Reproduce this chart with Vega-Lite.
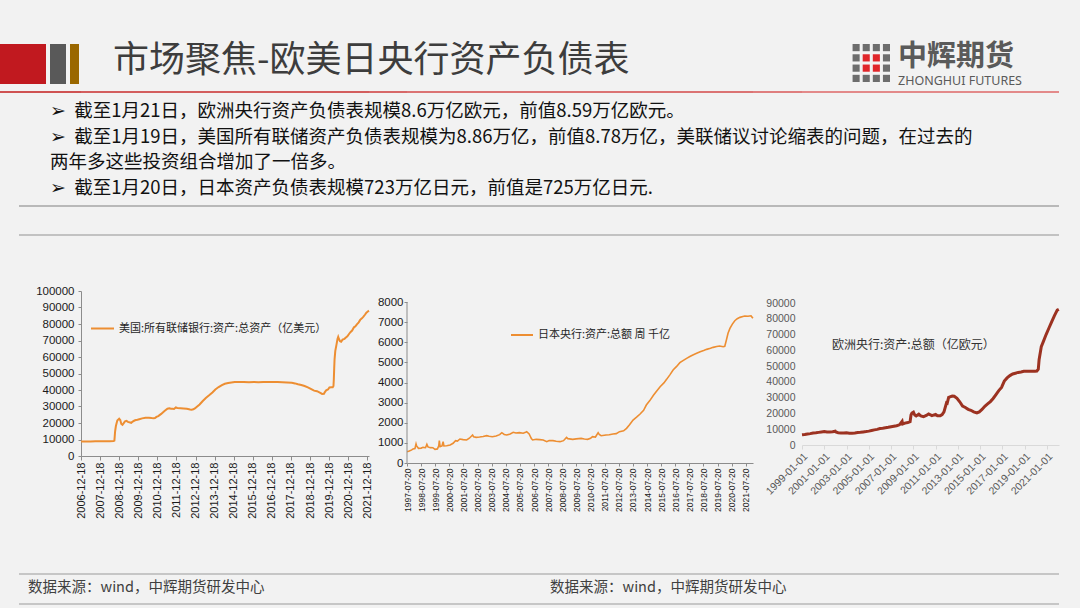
{
"$schema":"https://vega.github.io/schema/vega-lite/v6.json",
"background":"#f2f2f2",
"padding":0,
"data":{"values":[]},
"columns":13,
"align":"each",
"bounds":"flush",
"spacing":0,
"resolve":{"scale":{"x":"independent","y":"independent","color":"independent"},"legend":{"color":"independent"}},
"config":{"view":{"stroke":null},"concat":{"spacing":0},"font":"Noto Sans CJK SC","axis":{"labelOverlap":false,"labelFlush":false,"labelBound":false}},
"concat":[
{"width":19,"height":44,"mark":"point"},{"width":27,"height":44,"mark":"point"},{"width":4,"height":44,"mark":"point"},{"width":16,"height":44,"mark":"point"},{"width":4,"height":44,"mark":"point"},{"width":9,"height":44,"mark":"point"},{"width":2,"height":44,"mark":"point"},{"width":288,"height":44,"mark":"point"},{"width":38,"height":44,"mark":"point"},{"width":346,"height":44,"mark":"point"},{"width":49,"height":44,"mark":"point"},{"width":257,"height":44,"mark":"point"},{"width":21,"height":44,"mark":"point"},

{"width":19,"height":40,"view":{"fill":"#c1191f"},"mark":"point"},
{"width":27,"height":40,"view":{"fill":"#c1191f"},"mark":"point"},
{"width":1,"height":1,"mark":"point"},
{"width":16,"height":40,"view":{"fill":"#595959"},"mark":"point"},
{"width":1,"height":1,"mark":"point"},
{"width":9,"height":40,"view":{"fill":"#9a6700"},"mark":"point"},
{"width":1,"height":1,"mark":"point"},{"width":1,"height":1,"mark":"point"},{"width":1,"height":1,"mark":"point"},{"width":1,"height":1,"mark":"point"},{"width":1,"height":1,"mark":"point"},
{"width":88,"height":38,
 "data":{"values":[
  {"c":1,"r":1,"k":"g"},{"c":2,"r":1,"k":"g"},{"c":3,"r":1,"k":"g"},{"c":4,"r":1,"k":"g"},
  {"c":1,"r":2,"k":"g"},{"c":2,"r":2,"k":"r"},{"c":3,"r":2,"k":"r"},{"c":4,"r":2,"k":"g"},
  {"c":1,"r":3,"k":"g"},{"c":2,"r":3,"k":"r"},{"c":3,"r":3,"k":"r"},{"c":4,"r":3,"k":"g"},
  {"c":1,"r":4,"k":"g"},{"c":2,"r":4,"k":"g"},{"c":3,"r":4,"k":"g"},{"c":4,"r":4,"k":"g"}]},
 "mark":{"type":"rect"},
 "encoding":{
  "x":{"field":"c","type":"ordinal","axis":null,"scale":{"domain":[-4,-3,-2,-1,0,1,2,3,4],"paddingInner":0.3,"paddingOuter":0}},
  "y":{"field":"r","type":"ordinal","axis":null,"scale":{"paddingInner":0.3,"paddingOuter":0}},
  "color":{"field":"k","type":"nominal","legend":null,"scale":{"domain":["g","r"],"range":["#6d6d6d","#e0262a"]}}}},
{"width":1,"height":47,"mark":"point"},

{"width":19,"height":2,"view":{"fill":"#cf5252"},"mark":"point",
 "title":{"text":"市场聚焦-欧美日央行资产负债表","anchor":"start","frame":"group","orient":"top","offset":11,"dx":113,"font":"Noto Sans CJK SC","fontSize":36,"fontWeight":"normal","color":"#3d3d3d"}},
{"width":27,"height":2,"view":{"fill":"#cf5252"},"mark":"point"},
{"width":4,"height":2,"view":{"fill":"#cf5252"},"mark":"point"},
{"width":16,"height":2,"view":{"fill":"#cf5252"},"mark":"point"},
{"width":4,"height":2,"view":{"fill":"#cf5252"},"mark":"point"},
{"width":9,"height":2,"view":{"fill":"#cf5252"},"mark":"point"},
{"width":2,"height":2,"view":{"fill":"#cf5252"},"mark":"point"},
{"width":288,"height":2,"view":{"fill":"#d35e5e"},"mark":"point"},
{"width":38,"height":2,"view":{"fill":"#d76868"},"mark":"point"},
{"width":346,"height":2,"view":{"fill":"#db7373"},"mark":"point"},
{"width":49,"height":2,"view":{"fill":"#df7e7e"},"mark":"point"},
{"width":257,"height":2,"view":{"fill":"#e38a8a"},"mark":"point",
 "title":{"text":"中辉期货","subtitle":"ZHONGHUI FUTURES","anchor":"start","frame":"group","orient":"top","offset":4,"dx":96,"font":"Noto Sans CJK SC","fontSize":29,"fontWeight":"bold","color":"#5a5a5a","subtitleFont":"Noto Sans","subtitleFontSize":12.5,"subtitleColor":"#5a5a5a","subtitlePadding":3}},
{"width":1,"height":114,"mark":"point"},

{"width":1,"height":29,"mark":"point"},
{"width":27,"height":2,"view":{"fill":"#b9b9b9"},"mark":"point",
 "title":{"text":["➢\u00a0\u00a0截至1月21日，欧洲央行资产负债表规模8.6万亿欧元，前值8.59万亿欧元。","➢\u00a0\u00a0截至1月19日，美国所有联储资产负债表规模为8.86万亿，前值8.78万亿，美联储议讨论缩表的问题，在过去的","两年多这些投资组合增加了一倍多。","➢\u00a0\u00a0截至1月20日，日本资产负债表规模723万亿日元，前值是725万亿日元."],"anchor":"start","frame":"group","orient":"top","offset":8,"dx":31,"font":"Noto Sans CJK SC","fontSize":18.5,"fontWeight":"normal","color":"#111111","lineHeight":25.5}},
{"width":4,"height":2,"view":{"fill":"#b9b9b9"},"mark":"point"},
{"width":16,"height":2,"view":{"fill":"#b9b9b9"},"mark":"point"},
{"width":4,"height":2,"view":{"fill":"#b9b9b9"},"mark":"point"},
{"width":9,"height":2,"view":{"fill":"#b9b9b9"},"mark":"point"},
{"width":2,"height":2,"view":{"fill":"#b9b9b9"},"mark":"point"},
{"width":288,"height":2,"view":{"fill":"#b9b9b9"},"mark":"point"},
{"width":38,"height":2,"view":{"fill":"#b9b9b9"},"mark":"point"},
{"width":346,"height":2,"view":{"fill":"#b9b9b9"},"mark":"point"},
{"width":49,"height":2,"view":{"fill":"#b9b9b9"},"mark":"point"},
{"width":257,"height":2,"view":{"fill":"#b9b9b9"},"mark":"point"},
{"width":1,"height":1,"mark":"point"},

{"width":1,"height":57,"mark":"point"},
{"width":27,"height":2,"view":{"fill":"#c2c2c2"},"mark":"point"},
{"width":4,"height":2,"view":{"fill":"#c2c2c2"},"mark":"point"},
{"width":16,"height":2,"view":{"fill":"#c2c2c2"},"mark":"point"},
{"width":4,"height":2,"view":{"fill":"#c2c2c2"},"mark":"point"},
{"width":9,"height":2,"view":{"fill":"#c2c2c2"},"mark":"point"},
{"width":2,"height":2,"view":{"fill":"#c2c2c2"},"mark":"point"},
{"width":288,"height":2,"view":{"fill":"#c2c2c2"},"mark":"point"},
{"width":38,"height":2,"view":{"fill":"#c2c2c2"},"mark":"point"},
{"width":346,"height":2,"view":{"fill":"#c2c2c2"},"mark":"point"},
{"width":49,"height":2,"view":{"fill":"#c2c2c2"},"mark":"point"},
{"width":257,"height":2,"view":{"fill":"#c2c2c2"},"mark":"point"},
{"width":1,"height":1,"mark":"point"},

{"width":1,"height":282,"mark":"point"},
{"width":1,"height":1,"mark":"point"},{"width":1,"height":1,"mark":"point"},{"width":1,"height":1,"mark":"point"},{"width":1,"height":1,"mark":"point"},{"width":1,"height":1,"mark":"point"},{"width":1,"height":1,"mark":"point"},
{"width":288,"height":165,
 "data":{"values":[
{"d":"2006-12-20","v":8740},{"d":"2007-03-21","v":8800},{"d":"2007-06-20","v":8850},{"d":"2007-09-19","v":8900},{"d":"2007-12-19","v":8920},{"d":"2008-03-19","v":8950},{"d":"2008-06-18","v":9000},{"d":"2008-09-03","v":9050},{"d":"2008-09-17","v":9300},{"d":"2008-09-24","v":12000},{"d":"2008-10-01","v":15000},{"d":"2008-10-15","v":18000},{"d":"2008-10-29","v":19800},{"d":"2008-11-12","v":21500},{"d":"2008-12-03","v":22200},{"d":"2008-12-17","v":22600},{"d":"2009-01-07","v":21800},{"d":"2009-01-28","v":19400},{"d":"2009-02-18","v":18900},{"d":"2009-03-11","v":19800},{"d":"2009-04-08","v":21000},{"d":"2009-05-06","v":21300},{"d":"2009-06-03","v":20700},{"d":"2009-07-01","v":20400},{"d":"2009-08-05","v":20100},{"d":"2009-09-02","v":20900},{"d":"2009-10-07","v":21500},{"d":"2009-11-04","v":21800},{"d":"2009-12-02","v":22000},{"d":"2010-01-06","v":22300},{"d":"2010-03-03","v":22800},{"d":"2010-05-05","v":23200},{"d":"2010-07-07","v":23200},{"d":"2010-09-01","v":23000},{"d":"2010-10-06","v":22900},{"d":"2010-11-03","v":23000},{"d":"2010-12-01","v":23700},{"d":"2011-01-05","v":24200},{"d":"2011-03-02","v":25500},{"d":"2011-05-04","v":27300},{"d":"2011-06-29","v":28700},{"d":"2011-08-03","v":28900},{"d":"2011-09-07","v":28600},{"d":"2011-10-05","v":28600},{"d":"2011-11-02","v":28500},{"d":"2011-12-07","v":29400},{"d":"2012-01-04","v":29100},{"d":"2012-03-07","v":29000},{"d":"2012-05-02","v":28800},{"d":"2012-07-04","v":28600},{"d":"2012-09-05","v":28200},{"d":"2012-10-03","v":28100},{"d":"2012-11-07","v":28300},{"d":"2012-12-05","v":28800},{"d":"2013-01-02","v":29600},{"d":"2013-03-06","v":31200},{"d":"2013-05-01","v":33200},{"d":"2013-07-03","v":35200},{"d":"2013-09-04","v":36800},{"d":"2013-11-06","v":38500},{"d":"2014-01-01","v":40300},{"d":"2014-03-05","v":41800},{"d":"2014-05-07","v":43000},{"d":"2014-07-02","v":43800},{"d":"2014-09-03","v":44200},{"d":"2014-11-05","v":44600},{"d":"2015-01-07","v":44900},{"d":"2015-04-01","v":44800},{"d":"2015-07-01","v":44900},{"d":"2015-10-07","v":44700},{"d":"2016-01-06","v":44900},{"d":"2016-04-06","v":44700},{"d":"2016-07-06","v":44800},{"d":"2016-10-05","v":44800},{"d":"2017-01-04","v":44900},{"d":"2017-04-05","v":44800},{"d":"2017-07-05","v":44700},{"d":"2017-10-04","v":44600},{"d":"2018-01-03","v":44400},{"d":"2018-03-07","v":44000},{"d":"2018-05-02","v":43500},{"d":"2018-07-04","v":43000},{"d":"2018-09-05","v":42400},{"d":"2018-11-07","v":41600},{"d":"2019-01-02","v":40700},{"d":"2019-03-06","v":39600},{"d":"2019-05-01","v":39300},{"d":"2019-07-03","v":38300},{"d":"2019-08-07","v":37600},{"d":"2019-09-11","v":37700},{"d":"2019-09-25","v":38600},{"d":"2019-10-23","v":39800},{"d":"2019-11-27","v":40300},{"d":"2019-12-25","v":41500},{"d":"2020-01-29","v":41700},{"d":"2020-02-26","v":41700},{"d":"2020-03-11","v":42400},{"d":"2020-03-18","v":46700},{"d":"2020-03-25","v":53100},{"d":"2020-04-01","v":58600},{"d":"2020-04-15","v":63700},{"d":"2020-05-06","v":67200},{"d":"2020-05-27","v":70900},{"d":"2020-06-10","v":72200},{"d":"2020-06-24","v":70900},{"d":"2020-07-15","v":69600},{"d":"2020-08-05","v":69300},{"d":"2020-09-02","v":70500},{"d":"2020-10-07","v":71000},{"d":"2020-11-04","v":71800},{"d":"2020-12-02","v":72500},{"d":"2021-01-06","v":74100},{"d":"2021-02-03","v":75200},{"d":"2021-03-03","v":76000},{"d":"2021-04-07","v":78000},{"d":"2021-05-05","v":78600},{"d":"2021-06-02","v":79800},{"d":"2021-07-07","v":81000},{"d":"2021-08-04","v":82500},{"d":"2021-09-01","v":83300},{"d":"2021-10-06","v":84500},{"d":"2021-11-03","v":85600},{"d":"2021-12-01","v":86900},{"d":"2021-12-29","v":87600},{"d":"2022-01-19","v":88100}]},
 "mark":{"type":"line","strokeWidth":2},
 "encoding":{
  "x":{"field":"d","type":"temporal","scale":{"type":"utc","nice":false,"domain":[{"year":2006,"month":12,"date":18,"utc":true},{"year":2022,"month":1,"date":20,"utc":true}]},
   "axis":{"title":null,"values":[{"year":2006,"month":12,"date":18,"utc":true},{"year":2007,"month":12,"date":18,"utc":true},{"year":2008,"month":12,"date":18,"utc":true},{"year":2009,"month":12,"date":18,"utc":true},{"year":2010,"month":12,"date":18,"utc":true},{"year":2011,"month":12,"date":18,"utc":true},{"year":2012,"month":12,"date":18,"utc":true},{"year":2013,"month":12,"date":18,"utc":true},{"year":2014,"month":12,"date":18,"utc":true},{"year":2015,"month":12,"date":18,"utc":true},{"year":2016,"month":12,"date":18,"utc":true},{"year":2017,"month":12,"date":18,"utc":true},{"year":2018,"month":12,"date":18,"utc":true},{"year":2019,"month":12,"date":18,"utc":true},{"year":2020,"month":12,"date":18,"utc":true},{"year":2021,"month":12,"date":18,"utc":true}],
    "format":"%Y-%m-%d","labelAngle":270,"labelFont":"Liberation Sans","labelFontSize":11,"labelColor":"#1a1a1a","labelPadding":2,"tickSize":4,"tickColor":"#8c8c8c","domainColor":"#8c8c8c","grid":false,"labelOverlap":false,"labelFlush":false,"labelBound":false}},
  "y":{"field":"v","type":"quantitative","scale":{"domain":[0,100000],"nice":false},
   "axis":{"title":null,"values":[0,10000,20000,30000,40000,50000,60000,70000,80000,90000,100000],"format":"d","labelFont":"Liberation Sans","labelFontSize":11.5,"labelColor":"#1a1a1a","labelPadding":4,"tickSize":3,"tickColor":"#8c8c8c","domainColor":"#8c8c8c","grid":false}},
  "color":{"datum":"美国:所有联储银行:资产:总资产（亿美元）","type":"nominal","scale":{"range":["#ed8e32"]},
   "legend":{"title":null,"orient":"none","legendX":9,"legendY":25,"symbolType":"stroke","symbolSize":529,"symbolStrokeWidth":2,"labelFont":"Noto Sans CJK SC","labelFontSize":11,"labelColor":"#262626","padding":0,"labelOffset":4,"labelLimit":400}}}},
{"width":1,"height":1,"mark":"point"},
{"width":346,"height":172,
 "resolve":{"axis":{"x":"independent","y":"independent"}},
 "layer":[
 {"data":{"values":[
{"d":"1997-07-23","v":560},{"d":"1997-09-17","v":600},{"d":"1997-11-19","v":650},{"d":"1997-12-24","v":700},{"d":"1998-02-11","v":720},{"d":"1998-03-11","v":944},{"d":"1998-03-25","v":850},{"d":"1998-05-13","v":729},{"d":"1998-07-22","v":740},{"d":"1998-09-09","v":778},{"d":"1998-11-11","v":760},{"d":"1998-12-16","v":927},{"d":"1999-01-13","v":800},{"d":"1999-03-17","v":762},{"d":"1999-05-19","v":760},{"d":"1999-07-14","v":679},{"d":"1999-09-15","v":700},{"d":"1999-10-20","v":850},{"d":"1999-11-03","v":1110},{"d":"1999-11-24","v":811},{"d":"2000-01-12","v":850},{"d":"2000-02-09","v":1060},{"d":"2000-03-01","v":845},{"d":"2000-05-10","v":860},{"d":"2000-08-09","v":894},{"d":"2000-10-25","v":980},{"d":"2000-12-27","v":1110},{"d":"2001-02-14","v":1090},{"d":"2001-04-18","v":1192},{"d":"2001-07-11","v":1160},{"d":"2001-10-10","v":1143},{"d":"2001-12-19","v":1230},{"d":"2002-03-13","v":1391},{"d":"2002-04-10","v":1300},{"d":"2002-06-12","v":1275},{"d":"2002-09-11","v":1290},{"d":"2002-12-11","v":1320},{"d":"2003-03-12","v":1358},{"d":"2003-05-14","v":1330},{"d":"2003-08-06","v":1308},{"d":"2003-11-12","v":1340},{"d":"2004-02-11","v":1410},{"d":"2004-04-07","v":1507},{"d":"2004-06-09","v":1420},{"d":"2004-08-11","v":1391},{"d":"2004-11-10","v":1440},{"d":"2005-01-26","v":1524},{"d":"2005-04-06","v":1490},{"d":"2005-07-06","v":1507},{"d":"2005-10-12","v":1480},{"d":"2005-12-28","v":1540},{"d":"2006-01-11","v":1557},{"d":"2006-03-15","v":1441},{"d":"2006-04-12","v":1330},{"d":"2006-05-10","v":1220},{"d":"2006-06-14","v":1143},{"d":"2006-09-13","v":1176},{"d":"2006-12-13","v":1160},{"d":"2007-03-14","v":1143},{"d":"2007-06-13","v":1060},{"d":"2007-08-15","v":1120},{"d":"2007-11-21","v":1110},{"d":"2008-02-13","v":1080},{"d":"2008-05-21","v":1060},{"d":"2008-08-20","v":1110},{"d":"2008-11-05","v":1275},{"d":"2008-12-10","v":1210},{"d":"2009-04-15","v":1176},{"d":"2009-07-15","v":1200},{"d":"2009-11-18","v":1225},{"d":"2010-02-10","v":1190},{"d":"2010-05-05","v":1176},{"d":"2010-07-21","v":1230},{"d":"2010-09-08","v":1308},{"d":"2010-11-24","v":1290},{"d":"2011-02-02","v":1507},{"d":"2011-03-02","v":1420},{"d":"2011-04-20","v":1358},{"d":"2011-08-24","v":1391},{"d":"2011-11-16","v":1400},{"d":"2012-02-22","v":1441},{"d":"2012-05-16","v":1460},{"d":"2012-08-08","v":1557},{"d":"2012-11-21","v":1600},{"d":"2013-02-06","v":1722},{"d":"2013-04-24","v":1900},{"d":"2013-07-24","v":2136},{"d":"2013-10-23","v":2280},{"d":"2014-01-22","v":2434},{"d":"2014-04-23","v":2620},{"d":"2014-07-02","v":2881},{"d":"2014-10-01","v":3100},{"d":"2015-01-07","v":3378},{"d":"2015-04-08","v":3600},{"d":"2015-06-24","v":3792},{"d":"2015-09-30","v":3980},{"d":"2015-12-09","v":4157},{"d":"2016-03-02","v":4380},{"d":"2016-05-25","v":4620},{"d":"2016-08-24","v":4800},{"d":"2016-11-16","v":4985},{"d":"2017-02-15","v":5100},{"d":"2017-05-10","v":5200},{"d":"2017-08-02","v":5290},{"d":"2017-10-18","v":5365},{"d":"2018-01-24","v":5450},{"d":"2018-04-25","v":5531},{"d":"2018-07-25","v":5590},{"d":"2018-10-10","v":5647},{"d":"2019-01-16","v":5700},{"d":"2019-03-27","v":5746},{"d":"2019-06-26","v":5785},{"d":"2019-09-11","v":5812},{"d":"2019-12-11","v":5779},{"d":"2020-01-22","v":5800},{"d":"2020-03-04","v":6110},{"d":"2020-04-15","v":6450},{"d":"2020-06-03","v":6690},{"d":"2020-08-05","v":6900},{"d":"2020-10-07","v":7071},{"d":"2020-12-09","v":7170},{"d":"2021-02-17","v":7237},{"d":"2021-05-05","v":7280},{"d":"2021-06-23","v":7303},{"d":"2021-09-15","v":7290},{"d":"2021-10-20","v":7303},{"d":"2021-12-01","v":7310},{"d":"2022-01-19","v":7190}]},
  "mark":{"type":"line","strokeWidth":1.6},
  "encoding":{
   "x":{"field":"d","type":"temporal","scale":{"type":"utc","nice":false,"domain":[{"year":1997,"month":7,"date":20,"utc":true},{"year":2022,"month":1,"date":21,"utc":true}]},
    "axis":{"title":null,"values":[{"year":1997,"month":7,"date":20,"utc":true},{"year":1998,"month":7,"date":20,"utc":true},{"year":1999,"month":7,"date":20,"utc":true},{"year":2000,"month":7,"date":20,"utc":true},{"year":2001,"month":7,"date":20,"utc":true},{"year":2002,"month":7,"date":20,"utc":true},{"year":2003,"month":7,"date":20,"utc":true},{"year":2004,"month":7,"date":20,"utc":true},{"year":2005,"month":7,"date":20,"utc":true},{"year":2006,"month":7,"date":20,"utc":true},{"year":2007,"month":7,"date":20,"utc":true},{"year":2008,"month":7,"date":20,"utc":true},{"year":2009,"month":7,"date":20,"utc":true},{"year":2010,"month":7,"date":20,"utc":true},{"year":2011,"month":7,"date":20,"utc":true},{"year":2012,"month":7,"date":20,"utc":true},{"year":2013,"month":7,"date":20,"utc":true},{"year":2014,"month":7,"date":20,"utc":true},{"year":2015,"month":7,"date":20,"utc":true},{"year":2016,"month":7,"date":20,"utc":true},{"year":2017,"month":7,"date":20,"utc":true},{"year":2018,"month":7,"date":20,"utc":true},{"year":2019,"month":7,"date":20,"utc":true},{"year":2020,"month":7,"date":20,"utc":true},{"year":2021,"month":7,"date":20,"utc":true}],
     "format":"%Y-%m-%d","labelAngle":270,"labelFont":"Liberation Sans","labelFontSize":8.5,"labelColor":"#1a1a1a","labelPadding":2,"tickSize":3,"tickColor":"#8c8c8c","domainColor":"#8c8c8c","grid":false,"labelOverlap":false,"labelFlush":false,"labelBound":false}},
   "y":{"field":"v","type":"quantitative","scale":{"domain":[0,8547],"nice":false},
    "axis":{"title":null,"values":[0,1000,2000,3000,4000,5000,6000,7000,8000],"format":"d","labelFont":"Liberation Sans","labelFontSize":11.5,"labelColor":"#1a1a1a","labelPadding":1,"tickSize":3,"tickColor":"#8c8c8c","domain":false,"grid":false,"labelOverlap":false}},
   "color":{"datum":"日本央行:资产:总额 周 千亿","type":"nominal","scale":{"range":["#ed8e32"]},
    "legend":{"title":null,"orient":"none","legendX":103,"legendY":32,"symbolType":"stroke","symbolSize":484,"symbolStrokeWidth":2,"labelFont":"Noto Sans CJK SC","labelFontSize":11,"labelColor":"#262626","padding":0,"labelOffset":4,"labelLimit":400}}}},
 {"data":{"values":[{}]},
  "mark":{"type":"rule","color":"#8c8c8c","strokeWidth":1},
  "encoding":{
   "x":{"datum":{"year":1997,"month":7,"date":20,"utc":true},"type":"temporal","axis":null},
   "y":{"datum":0,"type":"quantitative","axis":null},
   "y2":{"datum":8000}}}
 ]},
{"width":1,"height":1,"mark":"point"},
{"width":257,"height":154,
 "data":{"values":[
{"d":"1999-01-01","v":6500},{"d":"1999-04-01","v":6700},{"d":"1999-07-01","v":7000},{"d":"1999-10-01","v":7200},{"d":"2000-01-01","v":7600},{"d":"2000-04-01","v":7700},{"d":"2000-07-01","v":8000},{"d":"2000-10-01","v":8300},{"d":"2001-01-01","v":8500},{"d":"2001-04-01","v":8300},{"d":"2001-07-01","v":8200},{"d":"2001-10-01","v":8350},{"d":"2001-12-28","v":8700},{"d":"2002-01-15","v":8200},{"d":"2002-04-01","v":7800},{"d":"2002-07-01","v":7600},{"d":"2002-10-01","v":7550},{"d":"2003-01-01","v":7700},{"d":"2003-04-01","v":7500},{"d":"2003-07-01","v":7450},{"d":"2003-10-01","v":7600},{"d":"2004-01-01","v":7900},{"d":"2004-04-01","v":8050},{"d":"2004-07-01","v":8300},{"d":"2004-10-01","v":8500},{"d":"2005-01-01","v":8800},{"d":"2005-04-01","v":9200},{"d":"2005-07-01","v":9600},{"d":"2005-10-01","v":9900},{"d":"2006-01-01","v":10400},{"d":"2006-04-01","v":10600},{"d":"2006-07-01","v":10900},{"d":"2006-10-01","v":11200},{"d":"2007-01-01","v":11600},{"d":"2007-04-01","v":11900},{"d":"2007-07-01","v":12200},{"d":"2007-10-01","v":12800},{"d":"2007-12-28","v":15000},{"d":"2008-01-15","v":13300},{"d":"2008-04-01","v":13900},{"d":"2008-07-01","v":14300},{"d":"2008-09-15","v":14800},{"d":"2008-10-15","v":19000},{"d":"2008-11-15","v":20300},{"d":"2009-01-02","v":20800},{"d":"2009-02-15","v":19000},{"d":"2009-04-01","v":18400},{"d":"2009-06-26","v":19500},{"d":"2009-09-01","v":18400},{"d":"2009-12-01","v":18000},{"d":"2010-03-01","v":18700},{"d":"2010-05-15","v":19700},{"d":"2010-09-01","v":18600},{"d":"2010-12-31","v":19400},{"d":"2011-03-01","v":18600},{"d":"2011-06-01","v":18500},{"d":"2011-08-01","v":19300},{"d":"2011-10-01","v":21000},{"d":"2011-12-23","v":26700},{"d":"2012-01-15","v":26500},{"d":"2012-03-02","v":30200},{"d":"2012-06-29","v":31000},{"d":"2012-09-01","v":30900},{"d":"2012-12-01","v":29600},{"d":"2013-03-01","v":27400},{"d":"2013-06-01","v":24700},{"d":"2013-09-01","v":23800},{"d":"2013-12-01","v":22600},{"d":"2014-03-01","v":22000},{"d":"2014-06-01","v":21000},{"d":"2014-09-15","v":20300},{"d":"2014-12-01","v":21000},{"d":"2015-03-01","v":22500},{"d":"2015-06-01","v":24500},{"d":"2015-09-01","v":26000},{"d":"2015-12-01","v":27500},{"d":"2016-03-01","v":29500},{"d":"2016-06-01","v":32000},{"d":"2016-09-01","v":34500},{"d":"2016-12-01","v":36500},{"d":"2017-03-01","v":40500},{"d":"2017-06-01","v":42500},{"d":"2017-09-01","v":44000},{"d":"2017-12-01","v":45000},{"d":"2018-03-01","v":45500},{"d":"2018-06-01","v":46000},{"d":"2018-09-01","v":46300},{"d":"2018-12-01","v":46700},{"d":"2019-03-01","v":46800},{"d":"2019-06-01","v":46800},{"d":"2019-09-01","v":46700},{"d":"2019-12-01","v":46700},{"d":"2020-02-01","v":46900},{"d":"2020-03-20","v":48000},{"d":"2020-04-15","v":54000},{"d":"2020-06-26","v":62300},{"d":"2020-09-01","v":65500},{"d":"2020-12-01","v":70000},{"d":"2021-03-01","v":74000},{"d":"2021-06-01","v":78000},{"d":"2021-09-01","v":82000},{"d":"2021-12-01","v":85500},{"d":"2022-01-21","v":86000}]},
 "mark":{"type":"line","strokeWidth":3},
 "encoding":{
  "x":{"field":"d","type":"temporal","scale":{"type":"utc","nice":false,"domain":[{"year":1999,"month":1,"date":1,"utc":true},{"year":2022,"month":1,"date":28,"utc":true}]},
   "axis":{"title":null,"values":[{"year":1999,"month":1,"date":1,"utc":true},{"year":2001,"month":1,"date":1,"utc":true},{"year":2003,"month":1,"date":1,"utc":true},{"year":2005,"month":1,"date":1,"utc":true},{"year":2007,"month":1,"date":1,"utc":true},{"year":2009,"month":1,"date":1,"utc":true},{"year":2011,"month":1,"date":1,"utc":true},{"year":2013,"month":1,"date":1,"utc":true},{"year":2015,"month":1,"date":1,"utc":true},{"year":2017,"month":1,"date":1,"utc":true},{"year":2019,"month":1,"date":1,"utc":true},{"year":2021,"month":1,"date":1,"utc":true}],
    "format":"%Y-%m-%d","labelAngle":315,"labelFont":"Liberation Sans","labelFontSize":10.5,"labelColor":"#595959","labelPadding":2,"tickSize":4,"tickColor":"#d9d9d9","domainColor":"#d9d9d9","grid":false,"labelOverlap":false,"labelFlush":false,"labelBound":false}},
  "y":{"field":"v","type":"quantitative","scale":{"domain":[0,97606],"nice":false},
   "axis":{"title":null,"values":[0,10000,20000,30000,40000,50000,60000,70000,80000,90000],"format":"d","labelFont":"Liberation Sans","labelFontSize":10.5,"labelColor":"#595959","labelPadding":7,"ticks":false,"domain":false,"grid":false}},
  "color":{"datum":"欧洲央行:资产:总额（亿欧元）","type":"nominal","scale":{"range":["#9c3221"]},
   "legend":{"title":null,"orient":"none","legendX":18,"legendY":48,"symbolType":"stroke","symbolSize":0,"symbolStrokeWidth":0,"labelFont":"Noto Sans CJK SC","labelFontSize":12,"labelColor":"#333333","padding":0,"labelOffset":0,"labelLimit":400}}}},
{"width":1,"height":1,"mark":"point"},

{"width":1,"height":30,"mark":"point"},
{"width":27,"height":2,"view":{"fill":"#c6c6c6"},"mark":"point"},
{"width":4,"height":2,"view":{"fill":"#c6c6c6"},"mark":"point"},
{"width":16,"height":2,"view":{"fill":"#c6c6c6"},"mark":"point"},
{"width":4,"height":2,"view":{"fill":"#c6c6c6"},"mark":"point"},
{"width":9,"height":2,"view":{"fill":"#c6c6c6"},"mark":"point"},
{"width":2,"height":2,"view":{"fill":"#c6c6c6"},"mark":"point"},
{"width":288,"height":2,"view":{"fill":"#c6c6c6"},"mark":"point"},
{"width":38,"height":2,"view":{"fill":"#c6c6c6"},"mark":"point"},
{"width":346,"height":2,"view":{"fill":"#c6c6c6"},"mark":"point"},
{"width":49,"height":2,"view":{"fill":"#c6c6c6"},"mark":"point"},
{"width":257,"height":2,"view":{"fill":"#c6c6c6"},"mark":"point"},
{"width":1,"height":1,"mark":"point"},

{"width":1,"height":5,"mark":"point"},
{"width":27,"height":2,"view":{"fill":"#c6c6c6"},"mark":"point",
 "title":{"text":"数据来源：wind，中辉期货研发中心","anchor":"start","frame":"group","orient":"top","offset":8,"dx":9,"font":"Noto Sans CJK SC","fontSize":14.5,"fontWeight":"normal","color":"#404040"}},
{"width":4,"height":2,"view":{"fill":"#c6c6c6"},"mark":"point"},
{"width":16,"height":2,"view":{"fill":"#c6c6c6"},"mark":"point"},
{"width":4,"height":2,"view":{"fill":"#c6c6c6"},"mark":"point"},
{"width":9,"height":2,"view":{"fill":"#c6c6c6"},"mark":"point"},
{"width":2,"height":2,"view":{"fill":"#c6c6c6"},"mark":"point"},
{"width":288,"height":2,"view":{"fill":"#c6c6c6"},"mark":"point"},
{"width":38,"height":2,"view":{"fill":"#c6c6c6"},"mark":"point"},
{"width":346,"height":2,"view":{"fill":"#c6c6c6"},"mark":"point",
 "title":{"text":"数据来源：wind，中辉期货研发中心","anchor":"start","frame":"group","orient":"top","offset":8,"dx":143,"font":"Noto Sans CJK SC","fontSize":14.5,"fontWeight":"normal","color":"#404040"}},
{"width":49,"height":2,"view":{"fill":"#c6c6c6"},"mark":"point"},
{"width":257,"height":2,"view":{"fill":"#c6c6c6"},"mark":"point"},
{"width":1,"height":1,"mark":"point"}
]
}
